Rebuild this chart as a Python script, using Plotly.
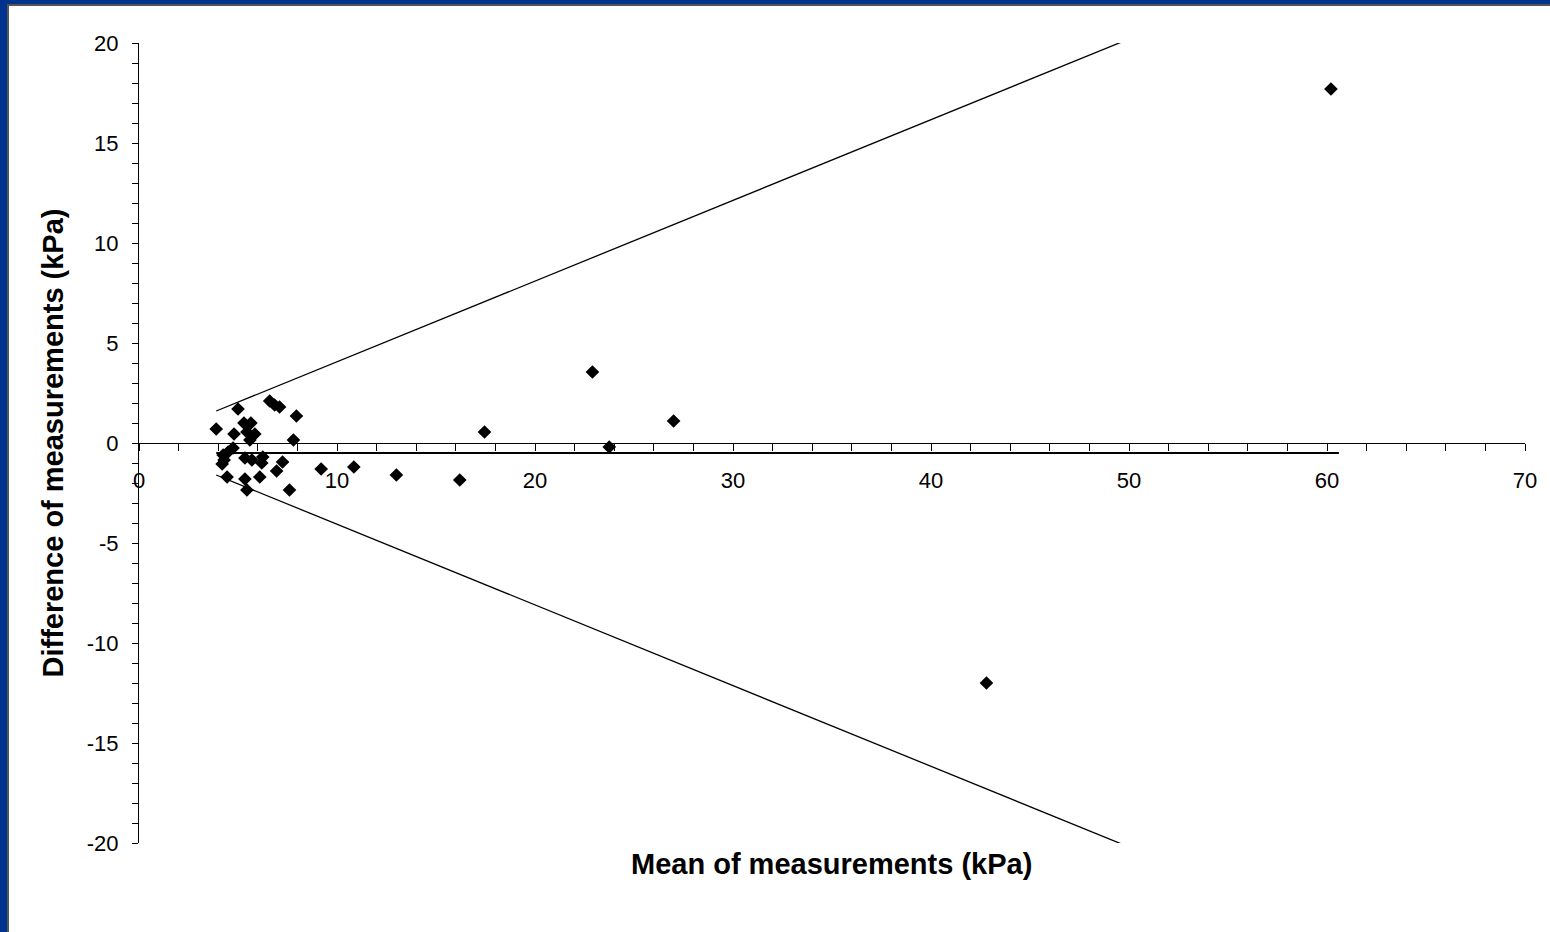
import plotly.graph_objects as go

# Bland-Altman style data: mean of measurements (kPa) vs difference (kPa)
mean_kpa = [60.2, 42.8, 22.9, 27.0, 23.75, 17.45, 16.2, 13.0, 10.85, 9.2, 7.95, 7.8, 7.6,
            3.9, 5.0, 6.6, 6.85, 7.1, 4.8, 5.3, 5.65, 5.45, 5.85, 5.6, 4.75, 4.5, 4.25,
            4.3, 4.2, 5.35, 5.7, 6.25, 6.2, 7.25, 6.95, 6.1, 5.35, 4.45, 5.45]
diff_kpa = [17.7, -12.0, 3.55, 1.1, -0.2, 0.55, -1.85, -1.6, -1.2, -1.3, 1.35, 0.15, -2.35,
            0.7, 1.7, 2.1, 1.9, 1.8, 0.45, 1.0, 1.0, 0.55, 0.45, 0.15, -0.25, -0.45, -0.6,
            -0.85, -1.05, -0.75, -0.85, -0.7, -1.0, -0.95, -1.4, -1.7, -1.8, -1.7, -2.35]

limit_x = [3.9, 50.0]
upper_limit = [1.6, 20.2]
lower_limit = [-1.6, -20.2]
bias_x = [3.9, 60.6]
bias_y = [-0.5, -0.5]

x_tickvals = [0, 10, 20, 30, 40, 50, 60, 70]
x_ticktext = ["0", "10", "20", "30", "40", "50", "60", "70"]
y_tickvals = [-20, -15, -10, -5, 0, 5, 10, 15, 20]
y_ticktext = ["-20", "-15", "-10", "-5", "0", "5", "10", "15", "20"]

FONT = "Arial, Liberation Sans, sans-serif"
BLUE = "#00338F"

fig = go.Figure()
fig.add_trace(go.Scatter(x=limit_x, y=upper_limit, mode="lines",
                         line=dict(color="black", width=1.3), cliponaxis=False,
                         hoverinfo="skip", showlegend=False))
fig.add_trace(go.Scatter(x=limit_x, y=lower_limit, mode="lines",
                         line=dict(color="black", width=1.3), cliponaxis=False,
                         hoverinfo="skip", showlegend=False))
fig.add_trace(go.Scatter(x=bias_x, y=bias_y, mode="lines",
                         line=dict(color="black", width=2), cliponaxis=False,
                         hoverinfo="skip", showlegend=False))
fig.add_trace(go.Scatter(x=mean_kpa, y=diff_kpa, mode="markers",
                         marker=dict(symbol="diamond", size=10.5, color="black"),
                         cliponaxis=False, showlegend=False))

fig.update_layout(
    width=1550, height=932,
    margin=dict(l=139, r=25, t=43, b=89),
    paper_bgcolor=BLUE,
    plot_bgcolor="rgba(0,0,0,0)",
    font=dict(family=FONT, color="black", size=22),
    showlegend=False,
    xaxis=dict(
        range=[0, 70], anchor="free", position=0.5,
        tickvals=x_tickvals, ticktext=x_ticktext,
        ticks="outside", ticklen=7, tickwidth=1, tickcolor="black",
        minor=dict(dtick=2, ticks="outside", ticklen=7, tickwidth=1, tickcolor="black"),
        showline=True, linecolor="black", linewidth=1,
        showgrid=False, zeroline=False,
        tickfont=dict(family=FONT, size=22, color="black"),
        ticklabelstandoff=11,
    ),
    xaxis2=dict(
        range=[0, 70], overlaying="x", anchor="free", position=0.5,
        tickvals=x_tickvals, ticks="inside", ticklen=4, tickwidth=1, tickcolor="black",
        minor=dict(dtick=2, ticks="inside", ticklen=4, tickwidth=1, tickcolor="black"),
        showticklabels=False, showline=False, showgrid=False, zeroline=False,
    ),
    yaxis=dict(
        range=[-20, 20], tickvals=y_tickvals, ticktext=y_ticktext,
        ticks="outside", ticklen=6, tickwidth=1, tickcolor="black",
        minor=dict(dtick=1, ticks="outside", ticklen=6, tickwidth=1, tickcolor="black"),
        showline=True, linecolor="black", linewidth=1,
        showgrid=False, zeroline=False,
        tickfont=dict(family=FONT, size=22, color="black"),
        ticklabelstandoff=9,
        title=dict(text="<b>Difference of measurements (kPa)</b>",
                   font=dict(family=FONT, size=29, color="black"), standoff=14),
    ),
    shapes=[dict(type="rect", xref="paper", yref="paper",
                 x0=-131 / 1386, x1=1.05, y0=-0.2, y1=1 + 38 / 800,
                 fillcolor="white", line=dict(color="#555555", width=2), layer="below")],
    annotations=[dict(text="<b>Mean of measurements (kPa)</b>", xref="paper", yref="paper",
                      x=(831 - 139) / 1386, y=-(864 - 843) / 800, xanchor="center", yanchor="middle",
                      showarrow=False, font=dict(family=FONT, size=29, color="black"))],
)

fig.write_html("out.html", config={"displayModeBar": False},
               post_script="document.body.style.margin='0';document.body.style.background='%s';" % BLUE)
